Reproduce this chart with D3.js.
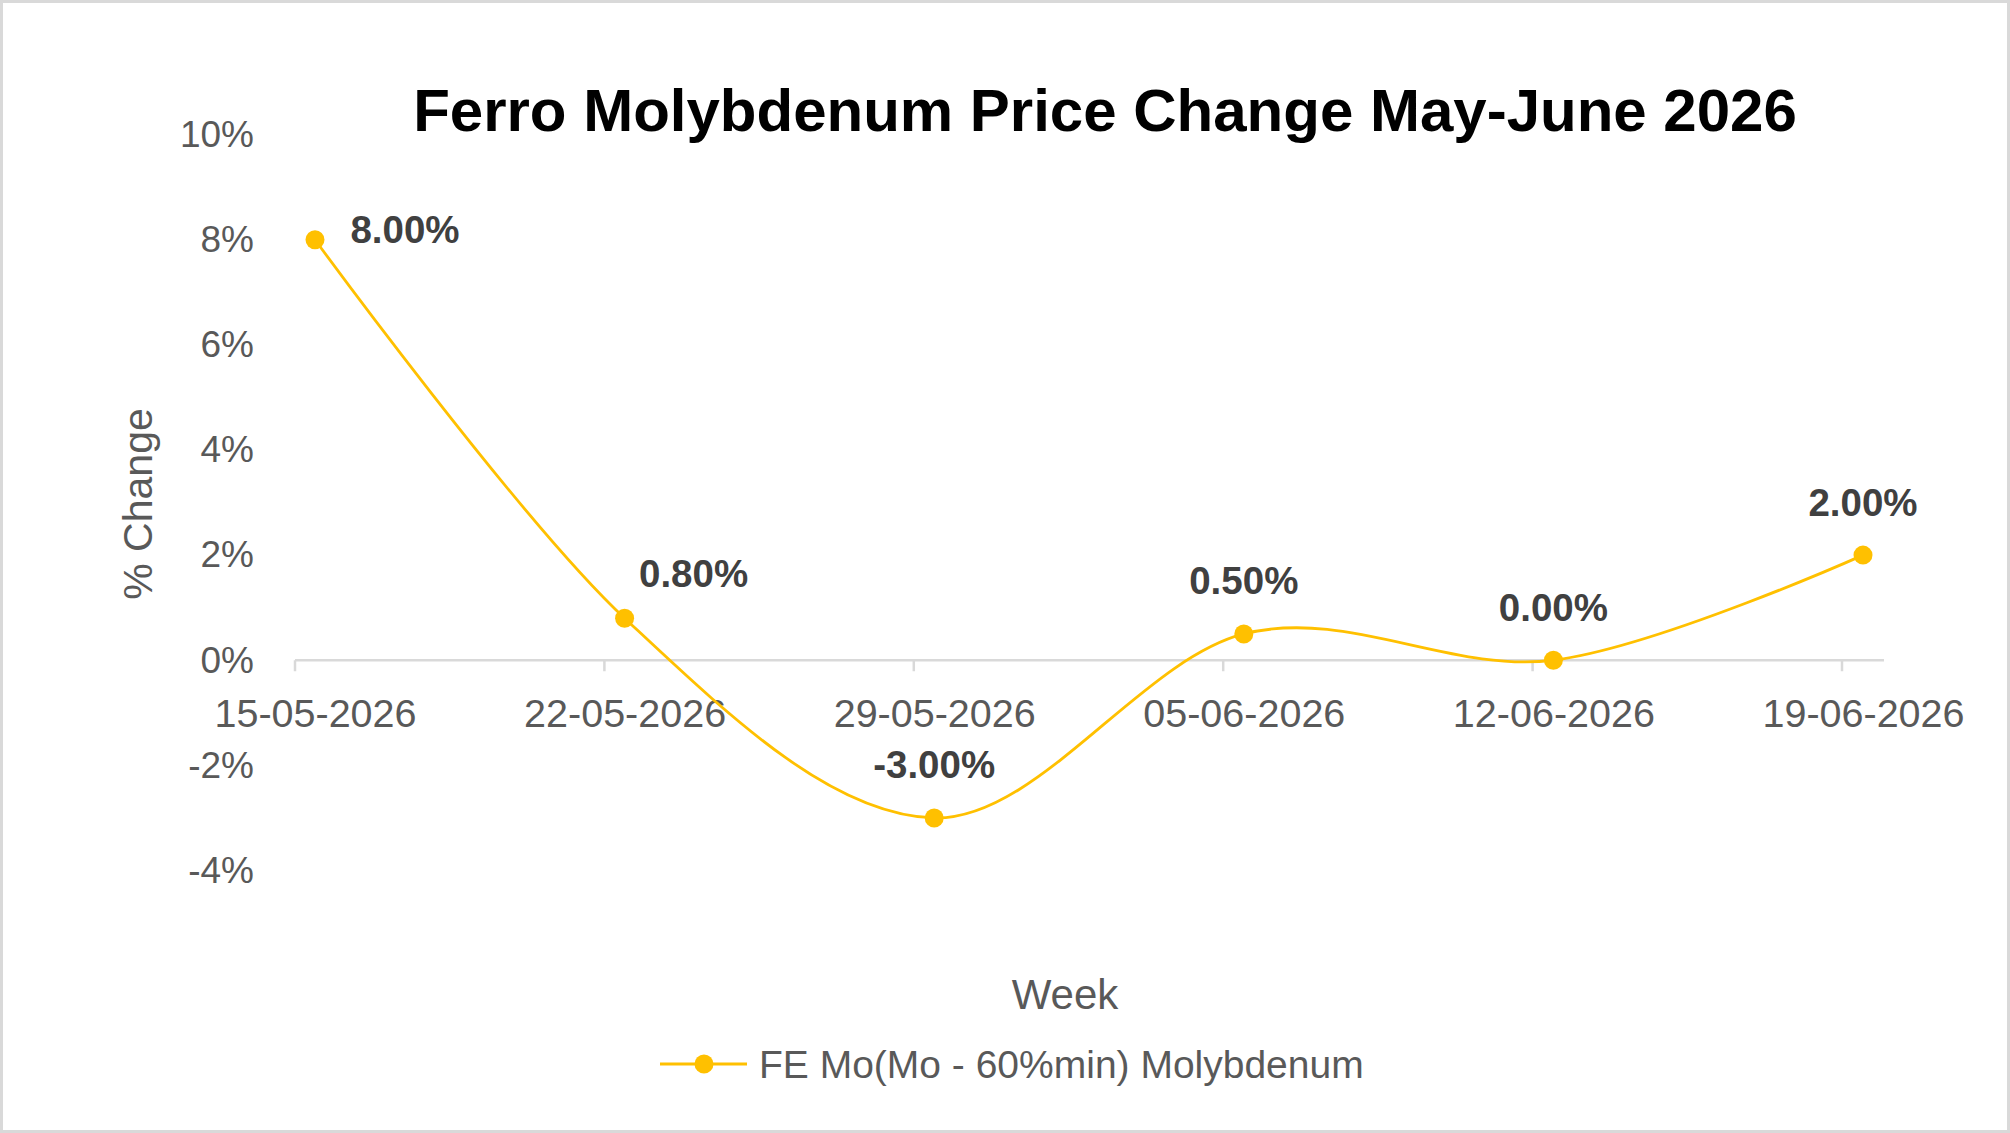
<!DOCTYPE html>
<html>
<head>
<meta charset="utf-8">
<script src="https://cdn.jsdelivr.net/npm/d3@7"></script>
<style>
  body { margin: 0; background: #fff; }
  text { font-family: "Liberation Sans", Arial, sans-serif; }
</style>
</head>
<body>
<div id="chart"></div>
<script>
// data
var weeks = ["15-05-2026", "22-05-2026", "29-05-2026", "05-06-2026", "12-06-2026", "19-06-2026"];
var changes = [8.0, 0.8, -3.0, 0.5, 0.0, 2.0];
var yTicks = [-4, -2, 0, 2, 4, 6, 8, 10];
var seriesName = "FE Mo(Mo - 60%min) Molybdenum";
var chartTitle = "Ferro Molybdenum Price Change May-June 2026";

// where each value label sits relative to its point
var labelOffsets = [[90, -10], [69, -45], [0, -53], [0, -53], [0, -53], [0, -53]];

var svgWidth = 2010;
var svgHeight = 1133;
var gold = "#FFC000";

var svg = d3.select("#chart")
  .append("svg")
  .attr("width", svgWidth)
  .attr("height", svgHeight);

svg.append("rect")
  .attr("x", 1.5)
  .attr("y", 1.5)
  .attr("width", svgWidth - 3)
  .attr("height", svgHeight - 3)
  .attr("fill", "#fff")
  .attr("stroke", "#D9D9D9")
  .attr("stroke-width", 3);

/********************************************************/
var x = d3.scalePoint().domain(weeks).range([315, 1863]);
var xTick = d3.scalePoint().domain(weeks).range([295, 1842]);
var y = d3.scaleLinear().domain([-4, 10]).range([870.5, 134.6]);

// y axis labels
var leftAxis = d3.axisLeft(y)
  .tickValues(yTicks)
  .tickSize(0)
  .tickPadding(0)
  .tickFormat(d => d + "%");

svg.append("g")
  .attr("transform", "translate(254,0)")
  .call(leftAxis)
  .call(g => g.select(".domain").remove())
  .selectAll("text")
  .attr("font-family", "Liberation Sans, Arial, sans-serif")
  .attr("font-size", "37px")
  .attr("fill", "#595959");

// x axis line and ticks
svg.append("line")
  .attr("x1", xTick(weeks[0]))
  .attr("x2", 1884)
  .attr("y1", y(0))
  .attr("y2", y(0))
  .attr("stroke", "#D9D9D9")
  .attr("stroke-width", 2.5);

svg.selectAll(".xtick")
  .data(weeks)
  .enter()
  .append("line")
  .attr("class", "xtick")
  .attr("x1", d => xTick(d))
  .attr("x2", d => xTick(d))
  .attr("y1", y(0))
  .attr("y2", y(0) + 11)
  .attr("stroke", "#D9D9D9")
  .attr("stroke-width", 2.5);

// x axis labels
var bottomAxis = d3.axisBottom(x).tickSize(0).tickPadding(0);

svg.append("g")
  .attr("transform", `translate(0, ${y(0) + 39})`)
  .call(bottomAxis)
  .call(g => g.select(".domain").remove())
  .selectAll("text")
  .attr("font-family", "Liberation Sans, Arial, sans-serif")
  .attr("font-size", "39.5px")
  .attr("fill", "#595959");

/********************************************************/
var line = d3.line()
  .x((d, i) => x(weeks[i]))
  .y(d => y(d))
  .curve(d3.curveCatmullRom.alpha(0));

svg.append("path")
  .datum(changes)
  .attr("d", line)
  .attr("fill", "none")
  .attr("stroke", gold)
  .attr("stroke-width", 2.8);

svg.selectAll(".pt")
  .data(changes)
  .enter()
  .append("circle")
  .attr("class", "pt")
  .attr("cx", (d, i) => x(weeks[i]))
  .attr("cy", d => y(d))
  .attr("r", 9.5)
  .attr("fill", gold);

svg.selectAll(".vlabel")
  .data(changes)
  .enter()
  .append("text")
  .attr("class", "vlabel")
  .attr("x", (d, i) => x(weeks[i]) + labelOffsets[i][0])
  .attr("y", (d, i) => y(d) + labelOffsets[i][1])
  .attr("dy", "0.35em")
  .attr("text-anchor", "middle")
  .attr("font-size", "38.5px")
  .attr("font-weight", "bold")
  .attr("fill", "#404040")
  .text(d => d.toFixed(2) + "%");

/********************************************************/
svg.append("text")
  .attr("x", 1105)
  .attr("y", 131)
  .attr("text-anchor", "middle")
  .attr("font-size", "60px")
  .attr("font-weight", "bold")
  .attr("fill", "#000")
  .text(chartTitle);

svg.append("text")
  .attr("transform", "translate(138, 504) rotate(-90)")
  .attr("dy", "0.35em")
  .attr("text-anchor", "middle")
  .attr("font-size", "41px")
  .attr("fill", "#595959")
  .text("% Change");

svg.append("text")
  .attr("x", 1065)
  .attr("y", 994)
  .attr("dy", "0.35em")
  .attr("text-anchor", "middle")
  .attr("font-size", "42px")
  .attr("fill", "#595959")
  .text("Week");

// legend
var legend = svg.append("g").attr("transform", "translate(660, 1064)");

legend.append("line")
  .attr("x1", 0)
  .attr("x2", 87)
  .attr("stroke", gold)
  .attr("stroke-width", 3);

legend.append("circle")
  .attr("cx", 44)
  .attr("r", 9.5)
  .attr("fill", gold);

legend.append("text")
  .attr("x", 99)
  .attr("dy", "0.35em")
  .attr("font-size", "39px")
  .attr("fill", "#595959")
  .text(seriesName);
</script>
</body>
</html>
